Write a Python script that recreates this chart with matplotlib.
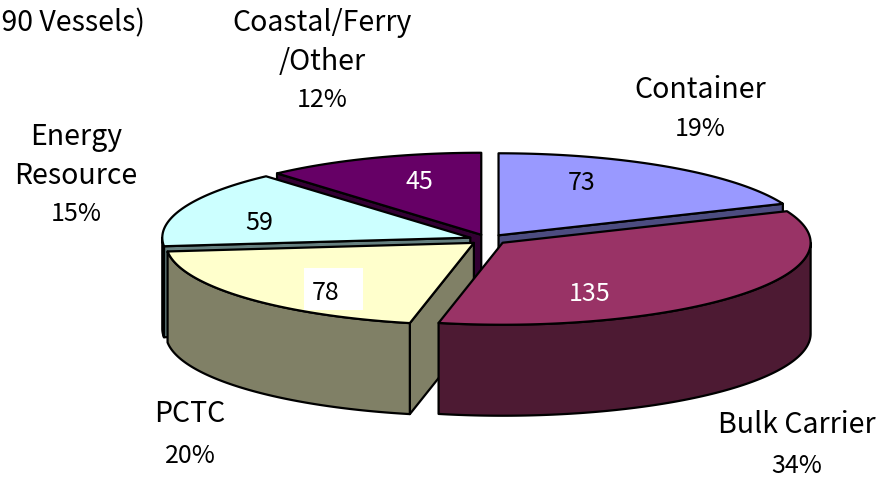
import numpy as np
import matplotlib
matplotlib.use('Agg')
import matplotlib.pyplot as plt
from matplotlib.patches import Polygon, Rectangle

plt.rcParams['font.family'] = ['Noto Sans CJK JP', 'DejaVu Sans']

# fleet breakdown, clockwise from 12 o'clock
categories = ['Container', 'Bulk Carrier', 'PCTC', 'Energy\nResource', 'Coastal/Ferry\n/Other']
vessels = [73, 135, 78, 59, 45]
percents = ['19%', '34%', '20%', '15%', '12%']
note = '(390 Vessels)'

top_colors = ['#9999FF', '#993366', '#FFFFCC', '#CCFFFF', '#660066']
side_colors = ['#4C4C80', '#4D1A33', '#808066', '#668080', '#330033']
value_colors = ['black', 'white', 'black', 'black', 'white']

# pie geometry in pixels
cx, cy = 488, 239.5
rx, ry = 308, 82
depth = 91
explode = 19

# centre of each label block, and of each value label
label_pos = [(700, 90), (797, 425), (190, 414), (76, 137), (322, 23)]
label_steps = [38.5, 41, 42, 38.5, 38.5]
value_pos = [(582, 183), (590, 294), (326, 293), (259, 223), (419, 182)]
name_size = 20.5
number_size = 18

# white backing behind the PCTC count
value_box = (304, 268, 59, 42)

# back to front
draw_order = [0, 4, 3, 2, 1]


def rim(x0, y0, a1, a2):
    t = np.radians(np.linspace(a1, a2, 120))
    return np.column_stack([x0 + rx * np.sin(t), y0 - ry * np.cos(t)])


def add_shape(pts, color):
    ax.add_patch(Polygon(pts, closed=True, facecolor=color, edgecolor='black',
                         linewidth=1.6, joinstyle='round'))


def draw_wedge(i, a1, a2):
    mid = np.radians((a1 + a2) / 2)
    x0 = cx + explode * np.sin(mid)
    y0 = cy - explode * ry / rx * np.cos(mid)
    edge = rim(x0, y0, a1, a2)
    apex = np.array([[x0, y0]])
    drop = np.array([0, depth])

    # flat faces that turn towards the viewer
    if np.sin(np.radians(a2)) > 0.01:
        face = np.vstack([apex, edge[-1:], edge[-1:] + drop, apex + drop])
        add_shape(face, side_colors[i])
    if np.sin(np.radians(a1)) < -0.01:
        face = np.vstack([apex, edge[:1], edge[:1] + drop, apex + drop])
        add_shape(face, side_colors[i])

    # outer wall, only the front half of the ellipse shows
    lo, hi = max(a1, 90), min(a2, 270)
    if lo < hi:
        wall = rim(x0, y0, lo, hi)
        add_shape(np.vstack([wall, wall[::-1] + drop]), side_colors[i])

    add_shape(np.vstack([apex, edge]), top_colors[i])


fig = plt.figure(figsize=(8.83, 4.79), dpi=100)
ax = fig.add_axes([0, 0, 1, 1])
ax.set_xlim(0, 883)
ax.set_ylim(479, 0)
ax.axis('off')

angles = np.cumsum([0] + vessels) / sum(vessels) * 360
for i in draw_order:
    draw_wedge(i, angles[i], angles[i + 1])

for i, name in enumerate(categories):
    x, y = label_pos[i]
    lines = name.split('\n')
    for j, line in enumerate(lines):
        ax.text(x, y + j * label_steps[i], line, ha='center', va='center', fontsize=name_size)
    ax.text(x, y + len(lines) * label_steps[i], percents[i], ha='center', va='center',
            fontsize=number_size)

bx, by, bw, bh = value_box
ax.add_patch(Rectangle((bx, by), bw, bh, facecolor='white', edgecolor='none'))
for i, v in enumerate(vessels):
    x, y = value_pos[i]
    ax.text(x, y, str(v), ha='center', va='center', fontsize=number_size, color=value_colors[i])

ax.text(145, 23, note, ha='right', va='center', fontsize=name_size)

fig.savefig('out.png', dpi=100)
